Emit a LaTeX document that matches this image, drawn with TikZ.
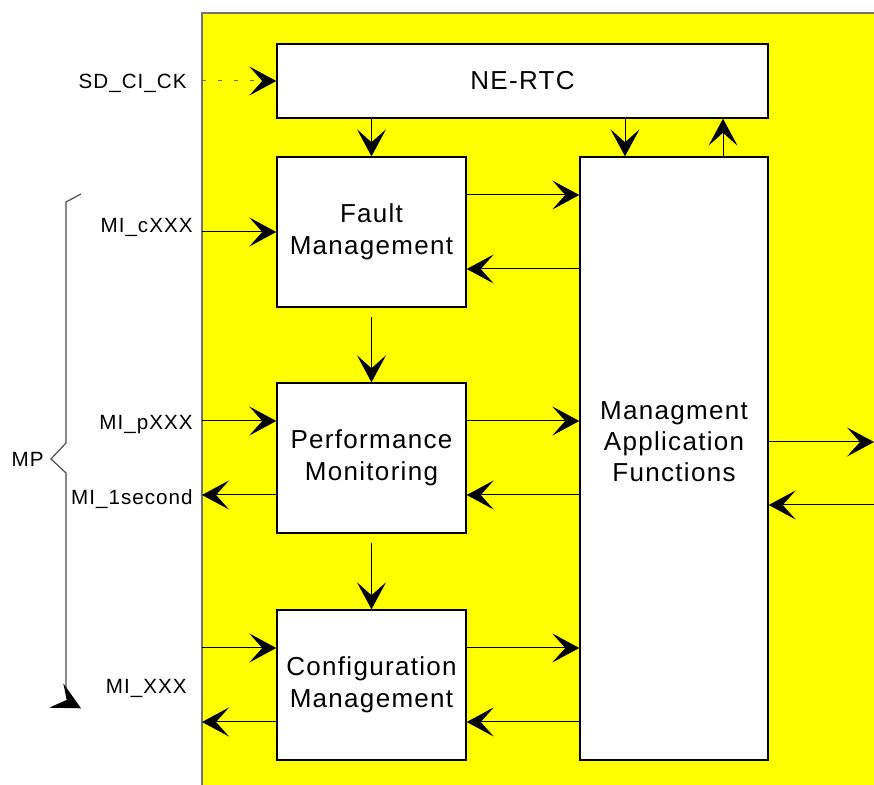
\documentclass[tikz,border=0pt]{standalone}
\usepackage{fontspec}
\setmainfont{Liberation Sans}
\newfontfamily\boxfont{Liberation Sans}[LetterSpace=5]
\newfontfamily\lblfont{Liberation Sans}[LetterSpace=5]
\usetikzlibrary{arrows.meta}
\definecolor{pureyellow}{RGB}{255,255,0}
\begin{document}
\begin{tikzpicture}[x=0.5pt,y=-0.5pt,
  arr/.style={-{Stealth[length=13.5pt,width=14.5pt,inset=6.5pt,color=black]}, line width=0.5pt},
  blk/.style={draw, fill=white, line width=0.7pt, inner sep=0pt, align=center,
    font=\boxfont\fontsize{13pt}{16pt}\selectfont},
  txt/.style={inner sep=0pt, align=center, font=\boxfont\fontsize{13pt}{15.5pt}\selectfont},
  lbl/.style={anchor=base east, inner sep=0pt, font=\lblfont\fontsize{10.3pt}{12pt}\selectfont},
  brace/.style={black!70, line width=0.6pt}]
\useasboundingbox (0,0) rectangle (874,785);
\clip (0,0) rectangle (874,785);
% yellow area
\fill[pureyellow] (202,13) rectangle (900,800);
\draw[black!55, line width=0.8pt] (202,800) -- (202,13) -- (900,13);
% blocks
\node[blk, minimum width=245.5pt, minimum height=37pt] (ne) at (522.5,81) {NE-RTC};
\node[blk, minimum width=94.5pt, minimum height=75pt] (fm) at (371.5,232) {Fault\\Management};
\node[blk, minimum width=94.5pt, minimum height=75pt] (pm) at (371.5,458) {Performance\\Monitoring};
\node[blk, minimum width=94.5pt, minimum height=75pt] (cm) at (371.5,685) {Configuration\\Management};
\node[blk, minimum width=94pt, minimum height=301.5pt] (maf) at (674,458.5) {};
\node[txt] (maft) at (674,442) {Managment\\Application\\Functions};
% edge coordinates
\coordinate (yl) at (202,0);
\coordinate (yr) at (874,0);
\coordinate (m1) at ([xshift=-24.5pt]maf.north);
\coordinate (m2) at ([xshift=24.5pt]maf.north);
\foreach \b in {fm,pm,cm}{
  \coordinate (\b-u) at ([yshift=18.5pt]\b.east);
  \coordinate (\b-d) at ([yshift=-18.5pt]\b.east);
  \coordinate (\b-ul) at ([yshift=18.5pt]\b.west);
  \coordinate (\b-dl) at ([yshift=-18.5pt]\b.west);
  \draw[arr] (\b-u) -- (\b-u -| maf.west);
  \draw[arr] (\b-d -| maf.west) -- (\b-d);
}
\coordinate (r1) at ([yshift=8.25pt]maf.east);
\coordinate (r2) at ([yshift=-23.25pt]maf.east);
% NE-RTC connections
\draw[arr, black!60, dash pattern=on 2pt off 6pt] (yl |- ne.west) -- (ne.west);
\draw[arr] (ne.south -| fm.north) -- (fm.north);
\draw[arr] (m1 |- ne.south) -- (m1);
\draw[arr] (m2) -- (m2 |- ne.south);
% vertical between blocks
\draw[arr] ([yshift=-4.5pt]fm.south) -- (pm.north);
\draw[arr] ([yshift=-4.5pt]pm.south) -- (cm.north);
% left inputs / outputs
\draw[arr] (yl |- fm.west) -- (fm.west);
\draw[arr] (yl |- pm-ul) -- (pm-ul);
\draw[arr] (pm-dl) -- (yl |- pm-dl);
\draw[arr] (yl |- cm-ul) -- (cm-ul);
\draw[arr] (cm-dl) -- (yl |- cm-dl);
% right side
\draw[arr] (r1) -- (r1 -| yr);
\draw[arr] (r2 -| yr) -- (r2);
% labels
\node[lbl] (sd) at (187,89) {SD\_CI\_CK};
\node[lbl] (mic) at (193,233) {MI\_cXXX};
\node[lbl] (mip) at (193,430) {MI\_pXXX};
\node[lbl] (mi1) at (193,505) {MI\_1second};
\node[lbl] (mix) at (187,694) {MI\_XXX};
\node[lbl] (mp) at (44,467) {MP};
% brace
\draw[brace] (81,194) -- (66,202) -- (66,443) -- (51,459) -- (66,473) -- (66,690);
\fill (63.3,683.3) -- (81,708.3) -- (49,707.7) -- (66.7,700) -- cycle;
\end{tikzpicture}
\end{document}
